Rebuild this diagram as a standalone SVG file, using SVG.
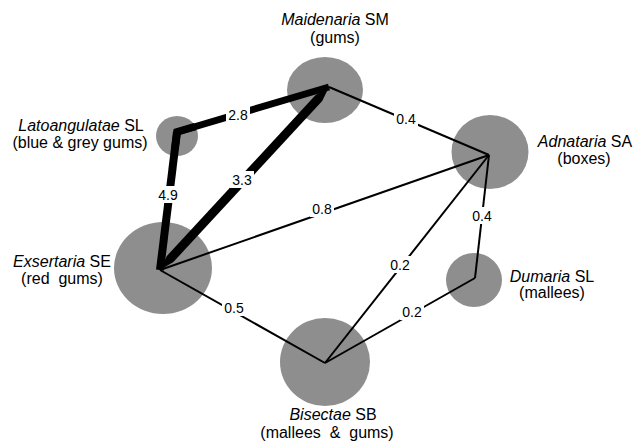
<svg xmlns="http://www.w3.org/2000/svg" width="637" height="443" viewBox="0 0 637 443">
<style>
.bub{fill:#8e8e8e}
.nm{font-family:"Liberation Sans",Arial,sans-serif;font-size:16px;fill:#000;text-anchor:middle}
.it{font-style:italic}
.e{stroke:#000;fill:none;stroke-linecap:butt;stroke-linejoin:miter}
.thin{stroke-width:2}
.lb{font-family:"Liberation Sans",Arial,sans-serif;font-size:14px;fill:#000;text-anchor:middle}
.bg{fill:#fff}
</style>
<rect width="637" height="443" fill="#fff"/>
<g id="bubbles">
<g id="maidenaria"><ellipse class="bub" cx="325" cy="90" rx="38" ry="33"/><text class="nm" x="335" y="25"><tspan class="it">Maidenaria</tspan> SM</text><text class="nm" x="335" y="43">(gums)</text></g>
<g id="latoangulatae"><ellipse class="bub" cx="177" cy="136" rx="21" ry="20"/><text class="nm" x="81" y="131"><tspan class="it">Latoangulatae</tspan> SL</text><text class="nm" x="80" y="148">(blue &amp; grey gums)</text></g>
<g id="adnataria"><ellipse class="bub" cx="490" cy="152" rx="38.5" ry="37"/><text class="nm" x="585" y="147"><tspan class="it">Adnataria</tspan> SA</text><text class="nm" x="584" y="164">(boxes)</text></g>
<g id="exsertaria"><ellipse class="bub" cx="163" cy="268" rx="49" ry="46"/><text class="nm" x="62" y="267"><tspan class="it">Exsertaria</tspan> SE</text><text class="nm" x="62" y="284">(red&#160; gums)</text></g>
<g id="dumaria"><ellipse class="bub" cx="474" cy="280" rx="28" ry="27"/><text class="nm" x="552" y="282"><tspan class="it">Dumaria</tspan> SL</text><text class="nm" x="552" y="298">(mallees)</text></g>
<g id="bisectae"><ellipse class="bub" cx="325" cy="362" rx="45" ry="44"/><text class="nm" x="333" y="420"><tspan class="it">Bisectae</tspan> SB</text><text class="nm" x="327" y="438">(mallees&#160; &amp;&#160; gums)</text></g>
</g>
<g id="connectors">
<line class="e" x1="329" y1="87" x2="177" y2="132" stroke-width="7"/>
<line class="e" x1="177" y1="132" x2="160" y2="270" stroke-width="8"/>
<polyline class="e" points="195,126.7 177,132 175,148" stroke-width="7.5"/>
<polygon points="329,87 322.2,101 173.4,262 160,270 166.8,256 315.6,95" fill="#000"/>
<line class="e thin" x1="329" y1="87" x2="489" y2="155"/>
<line class="e thin" x1="160" y1="270" x2="489" y2="155"/>
<line class="e thin" x1="160" y1="270" x2="325" y2="363"/>
<line class="e thin" x1="325" y1="363" x2="489" y2="155"/>
<line class="e thin" x1="325" y1="363" x2="475" y2="278"/>
<line class="e thin" x1="475" y1="278" x2="489" y2="155"/>
</g>
<g id="edge-labels">
<rect class="bg" x="226" y="106" width="24" height="17"/><text class="lb" x="238" y="120">2.8</text>
<rect class="bg" x="156" y="186" width="24" height="17"/><text class="lb" x="168" y="200">4.9</text>
<rect class="bg" x="230" y="171" width="24" height="17"/><text class="lb" x="242" y="185">3.3</text>
<rect class="bg" x="394" y="110" width="24" height="17"/><text class="lb" x="406" y="124">0.4</text>
<rect class="bg" x="310" y="200" width="24" height="17"/><text class="lb" x="322" y="214">0.8</text>
<rect class="bg" x="470" y="207" width="24" height="17"/><text class="lb" x="482" y="221">0.4</text>
<rect class="bg" x="222" y="299" width="24" height="17"/><text class="lb" x="234" y="313">0.5</text>
<rect class="bg" x="388" y="256" width="24" height="17"/><text class="lb" x="400" y="270">0.2</text>
<rect class="bg" x="400" y="303" width="24" height="17"/><text class="lb" x="412" y="317">0.2</text>
</g>
</svg>
